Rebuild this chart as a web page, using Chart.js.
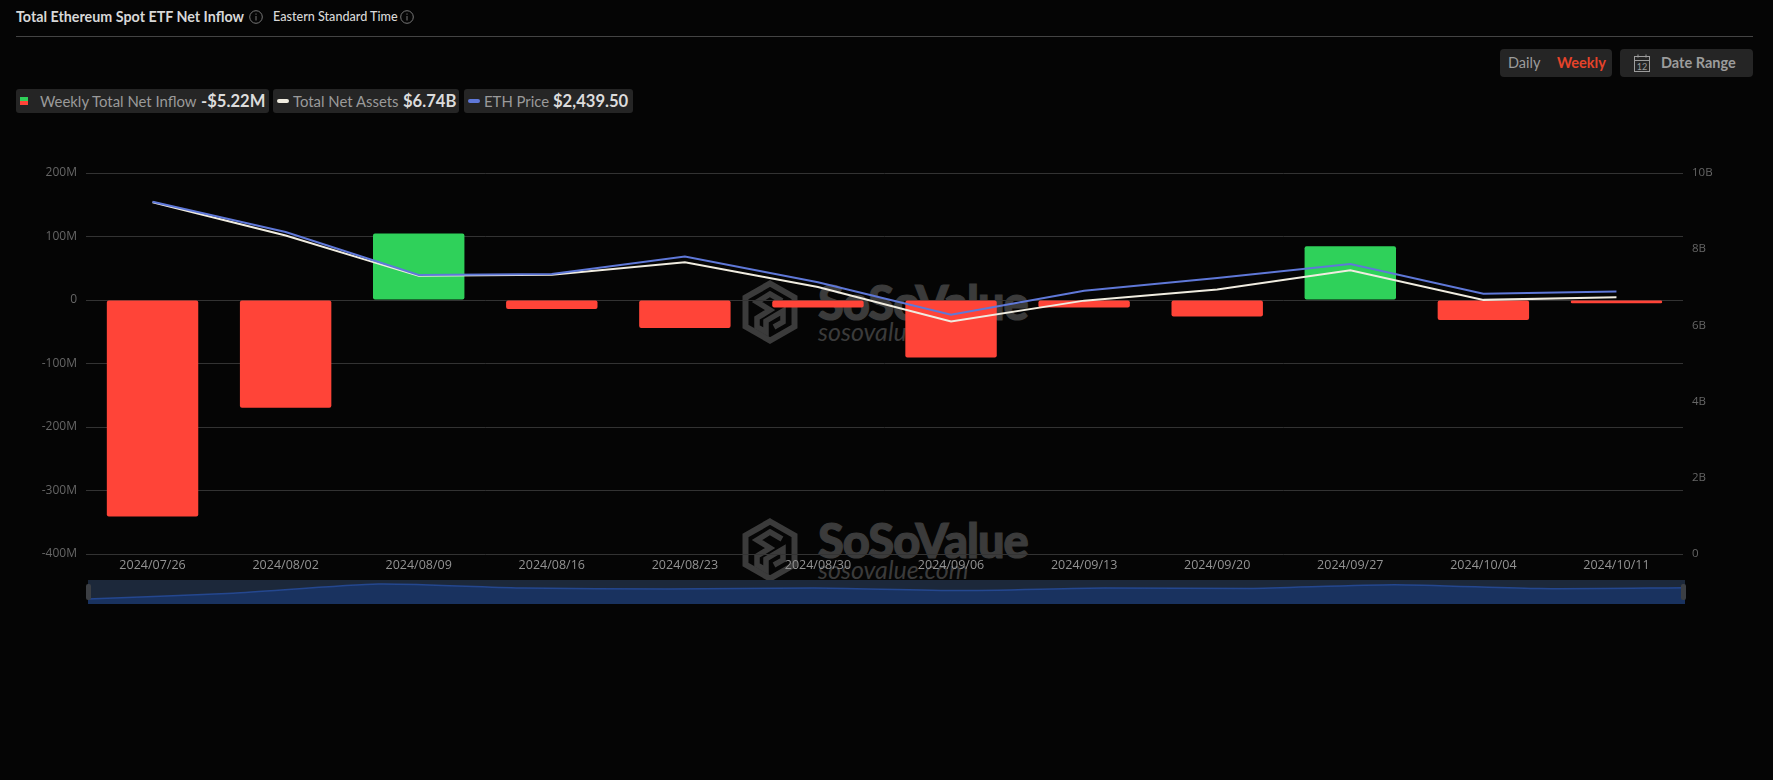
<!DOCTYPE html>
<html>
<head>
<meta charset="utf-8">
<title>Total Ethereum Spot ETF Net Inflow</title>
<script src="https://cdn.jsdelivr.net/npm/chart.js@4"></script>
<style>
  html, body { margin: 0; padding: 0; width: 1773px; height: 780px; background: #050505; overflow: hidden; font-family: Lato, sans-serif; }
  .abs { position: absolute; white-space: nowrap; }
  .title { left: 16px; top: 8px; font-size: 14.3px; font-weight: 700; color: #d8d8d8; line-height: 18px; }
  .zone { left: 273px; top: 8px; font-size: 12.6px; font-weight: 500; color: #d8d8d8; line-height: 18px; }
  .info { width: 14px; height: 14px; }
  .divider { left: 16px; top: 36px; width: 1737px; height: 1px; background: #444; }
  .pill { background: #252525; border-radius: 3px; height: 24px; top: 89px; }
  .lbl { top: 89px; line-height: 24px; font-size: 14.9px; color: #9a9a9a; }
  .val { top: 89px; line-height: 24px; font-size: 16.6px; font-weight: 700; color: #dcdcdc; }
  .dash { top: 99px; width: 12px; height: 4px; border-radius: 2px; }
  .btn { background: #252525; border-radius: 4px; top: 49px; height: 28px; }
  .btxt { top: 49px; line-height: 28px; font-size: 14.5px; color: #9c9c9c; }
  .wm1 { font-size: 47px; font-weight: 900; color: #3b3b3b; -webkit-text-stroke: 1.2px #3b3b3b; letter-spacing: -1px; line-height: 50px; }
  .wm2 { font-size: 25px; font-style: italic; font-weight: 400; color: #3b3b3b; line-height: 28px; }
  #mainChart { position: absolute; left: 0; top: 140px; }
  #sliderChart { position: absolute; left: 88px; top: 580px; background: #1c283a; }
  .handle { top: 584px; width: 5px; height: 16px; background: #3c3f44; border-radius: 2px; }
</style>
</head>
<body>
<div class="abs title">Total Ethereum Spot ETF Net Inflow</div>
<svg class="abs info" style="left:249px;top:10px" viewBox="0 0 14 14"><circle cx="7" cy="7" r="6.3" fill="none" stroke="#777"/><path d="M7 6v4.5M7 3.5v1.2" stroke="#777"/></svg>
<div class="abs zone">Eastern Standard Time</div>
<svg class="abs info" style="left:400px;top:10px" viewBox="0 0 14 14"><circle cx="7" cy="7" r="6.3" fill="none" stroke="#777"/><path d="M7 6v4.5M7 3.5v1.2" stroke="#777"/></svg>
<div class="abs divider"></div>

<div class="abs btn" style="left:1500px;width:112px"></div>
<div class="abs btxt" style="left:1508px">Daily</div>
<div class="abs btxt" style="left:1557px;color:#e5432a;font-weight:700">Weekly</div>
<div class="abs btn" style="left:1620px;width:133px"></div>
<svg class="abs" style="left:1634px;top:54px" width="16" height="18" viewBox="0 0 16 18"><rect x="0.5" y="2.5" width="15" height="15" fill="none" stroke="#9c9c9c"/><path d="M0.5 6.5h15M4 0.5v3M12 0.5v3" stroke="#9c9c9c" fill="none"/><text x="8" y="15.5" font-size="9" font-family="Lato" fill="#9c9c9c" text-anchor="middle">12</text></svg>
<div class="abs btxt" style="left:1661px;font-weight:700">Date Range</div>

<div class="abs pill" style="left:16px;width:253px"></div>
<div class="abs" style="left:20px;top:97px;width:8px;height:4px;background:#2fd15a"></div>
<div class="abs" style="left:20px;top:101px;width:8px;height:4px;background:#ff4438"></div>
<div class="abs lbl" style="left:40px">Weekly Total Net Inflow</div>
<div class="abs val" style="left:201px">-$5.22M</div>
<div class="abs pill" style="left:273px;width:186px"></div>
<div class="abs dash" style="left:277px;background:#f0ece0"></div>
<div class="abs lbl" style="left:293px">Total Net Assets</div>
<div class="abs val" style="left:403px">$6.74B</div>
<div class="abs pill" style="left:464px;width:169px"></div>
<div class="abs dash" style="left:468px;background:#5f78d8"></div>
<div class="abs lbl" style="left:484px">ETH Price</div>
<div class="abs val" style="left:553px">$2,439.50</div>

<div id="watermarks"></div>
<canvas id="sliderChart" width="1597" height="24"></canvas>
<canvas id="mainChart" width="1773" height="440"></canvas>
<div class="abs handle" style="left:86px"></div>
<div class="abs handle" style="left:1681px"></div>

<script>
// ===== DATA =====
const weeks = ['2024/07/26', '2024/08/02', '2024/08/09', '2024/08/16', '2024/08/23', '2024/08/30', '2024/09/06', '2024/09/13', '2024/09/20', '2024/09/27', '2024/10/04', '2024/10/11'];
const netInflow = [-341, -169.5, 104.6, -14, -44, -12, -90.5, -12, -26, 84.7, -31.5, -5.22]; // $M
const netAssets = [9.23, 8.36, 7.30, 7.33, 7.66, 7.01, 6.10, 6.65, 6.94, 7.45, 6.67, 6.74]; // $B
const ethPrice = [3273, 2992, 2592, 2601, 2765, 2524, 2223, 2446, 2564, 2694, 2418, 2439.5];

const red = '#ff4438';
const green = '#2fd15a';

// ===== WATERMARK =====
function watermark(top) {
  return `
    <svg class="abs" style="left:742px;top:${top}px" width="56" height="64" viewBox="0 0 56 64">
      <path d="M28 3.5L52.5 17.5V46.5L28 60.5L3.5 46.5V17.5Z" fill="none" stroke="#3b3b3b" stroke-width="6"/>
      <path d="M40 21L28 14L15 22L28 30L15 38V47L24 52V41L41 31V42L32 47" fill="none" stroke="#3b3b3b" stroke-width="5.5"/>
    </svg>
    <div class="abs wm1" style="left:818px;top:${top - 3}px">SoSoValue</div>
    <div class="abs wm2" style="left:818px;top:${top + 37}px">sosovalue.com</div>`;
}
document.getElementById('watermarks').innerHTML = watermark(280) + watermark(518);

// ===== MAIN CHART =====
new Chart(document.getElementById('mainChart'), {
  type: 'bar',
  data: {
    labels: weeks,
    datasets: [
      { type: 'line', label: 'ETH Price', data: ethPrice, yAxisID: 'price', borderColor: '#5f78d8', borderWidth: 2, pointRadius: 0, tension: 0, order: 1 },
      { type: 'line', label: 'Total Net Assets', data: netAssets, yAxisID: 'assets', borderColor: '#f0ece0', borderWidth: 2, pointRadius: 0, tension: 0, order: 2 },
      { label: 'Weekly Total Net Inflow', data: netInflow, yAxisID: 'inflow', backgroundColor: c => c.raw < 0 ? red : green, barPercentage: 0.687, categoryPercentage: 1, borderRadius: 2, borderSkipped: false, order: 3 }
    ]
  },
  options: {
    responsive: false,
    animation: false,
    devicePixelRatio: 1,
    layout: { padding: { top: 33, left: 0, right: 0, bottom: 0 } },
    plugins: { legend: { display: false }, tooltip: { enabled: false } },
    scales: {
      x: {
        grid: { display: false, drawTicks: false },
        border: { display: false },
        afterFit: s => { s.height = 26; },
        ticks: { color: '#939393', font: { family: 'Open Sans', size: 12.5 }, padding: 4, maxRotation: 0, autoSkip: false }
      },
      inflow: {
        position: 'left', min: -400, max: 200,
        grid: { color: '#333333', drawTicks: false },
        border: { display: false },
        afterFit: s => { s.width = 86; },
        ticks: { stepSize: 100, color: '#666666', font: { family: 'Open Sans', size: 12 }, padding: 9, callback: v => v === 0 ? '0' : v + 'M' }
      },
      assets: {
        position: 'right', min: 0, max: 10,
        grid: { display: false, drawTicks: false },
        border: { display: false },
        afterFit: s => { s.width = 90; },
        ticks: { stepSize: 2, color: '#666666', font: { family: 'Open Sans', size: 11.5 }, padding: 9, callback: v => v === 0 ? '0' : v + 'B' }
      },
      price: { display: false, min: 0, max: 3540 }
    }
  }
});

// ===== RANGE SLIDER =====
new Chart(document.getElementById('sliderChart'), {
  type: 'line',
  data: {
    labels: weeks,
    datasets: [{ data: netInflow, borderColor: '#24478f', borderWidth: 1.5, backgroundColor: '#19325f', fill: 'start', pointRadius: 0, tension: 0.2 }]
  },
  options: {
    responsive: false,
    animation: false,
    devicePixelRatio: 1,
    plugins: { legend: { display: false }, tooltip: { enabled: false } },
    scales: { x: { display: false }, y: { display: false, min: -487, max: 222 } }
  }
});
</script>
</body>
</html>
